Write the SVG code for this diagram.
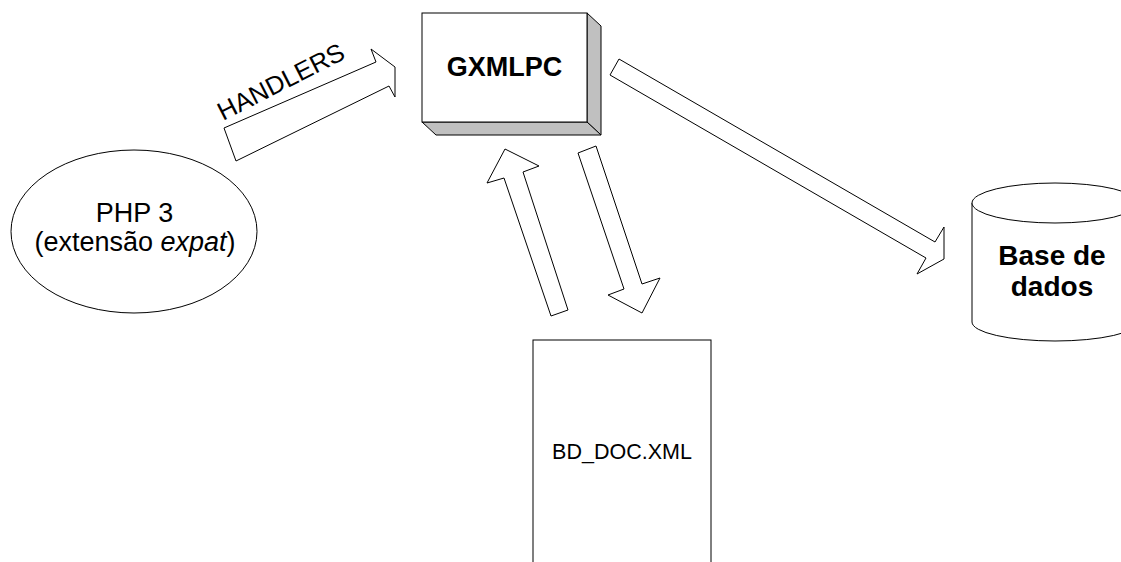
<svg xmlns="http://www.w3.org/2000/svg" width="1121" height="562" viewBox="0 0 1121 562">
  <style>
    .outline { fill: #ffffff; stroke: #000000; stroke-width: 1; stroke-linejoin: miter; }
    .shade { fill: #c0c0c0; stroke: #000000; stroke-width: 1; }
    .label { font-family: "Liberation Sans", Arial, sans-serif; fill: #000000; }
    .bold { font-weight: bold; }
  </style>
  <rect x="0" y="0" width="1121" height="562" fill="#ffffff"/>

  <!-- block arrows -->
  <g id="connectors">
    <!-- PHP -> GXMLPC (handlers) -->
    <polygon class="outline" points="224,128 376,62 371,49 395,67 395,97 389,86 236,161"/>
    <!-- XML document -> GXMLPC -->
    <polygon class="outline" points="505,149 539,166 523,172 568,310 551,316 504,178 487,183"/>
    <!-- GXMLPC -> XML document -->
    <polygon class="outline" points="578,153 596,146 642,284 660,278 642,313 608,295 624,289"/>
    <!-- GXMLPC -> database -->
    <polygon class="outline" points="619,59 935,242 944,227 944,259 917,274 926,258 610,75"/>
    <text class="label" x="223" y="121" font-size="25.5" transform="rotate(-27 223 121)">HANDLERS</text>
  </g>

  <!-- 3D processing box -->
  <g id="gxmlpc">
    <polygon class="shade" points="587,13 601,26 601,135 587,122"/>
    <polygon class="shade" points="422,122 587,122 601,135 436,135"/>
    <rect class="outline" x="422" y="13" width="165" height="109"/>
    <text class="label bold" x="504.5" y="76" font-size="27" text-anchor="middle">GXMLPC</text>
  </g>

  <!-- PHP parser -->
  <g id="php">
    <ellipse class="outline" cx="134" cy="231.5" rx="123" ry="81.5"/>
    <text class="label" x="134.5" y="222" font-size="27" text-anchor="middle">PHP 3</text>
    <text class="label" x="135" y="251" font-size="27" text-anchor="middle">(extensão <tspan font-style="italic">expat</tspan>)</text>
  </g>

  <!-- database cylinder -->
  <g id="database">
    <path class="outline" d="M972,203 L972,322 A83,19 0 0 0 1138,322 L1138,203 Z"/>
    <ellipse class="outline" cx="1055" cy="203" rx="83" ry="20"/>
    <text class="label bold" x="1052" y="265" font-size="28" text-anchor="middle">Base de</text>
    <text class="label bold" x="1052" y="296" font-size="28" text-anchor="middle">dados</text>
  </g>

  <!-- XML document -->
  <g id="bd-doc">
    <rect class="outline" x="533" y="340" width="178" height="240"/>
    <text class="label" x="622" y="459" font-size="21.5" text-anchor="middle">BD_DOC.XML</text>
  </g>
</svg>
